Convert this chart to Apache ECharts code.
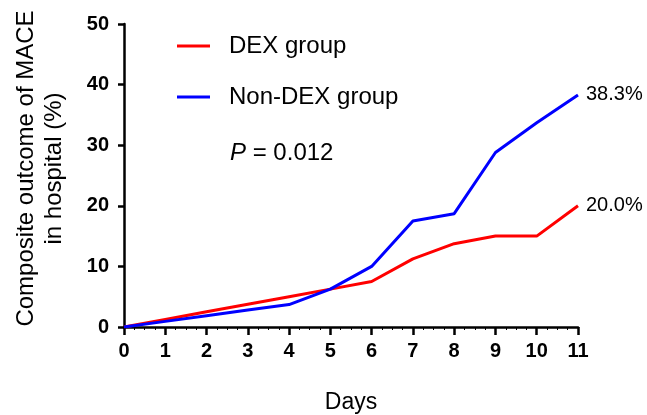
<!DOCTYPE html>
<html>
<head>
<meta charset="utf-8">
<script src="https://cdn.jsdelivr.net/npm/echarts@6/dist/echarts.min.js"></script>
<style>
html,body{margin:0;padding:0;background:#fff;}
#c{width:647px;height:415px;}
</style>
</head>
<body>
<div id="c"></div>
<script>
var days = [0,1,2,3,4,5,6,7,8,9,10,11];
var dexValues = [0,1.25,2.5,3.75,5.0,6.25,7.5,11.25,13.75,15.0,15.0,20.0];
var nonDexValues = [0,0.93,1.87,2.8,3.7,6.25,10.0,17.5,18.7,28.8,33.7,38.3];
var seriesNames = ['DEX group','Non-DEX group'];
var endLabels = ['20.0%','38.3%'];
var pText = '0.012';

var FONT = 'Liberation Sans, Arial, sans-serif';
function pairs(vals){ return days.map(function(d,i){ return [d, vals[i]]; }); }

var chart = echarts.init(document.getElementById('c'), null, {renderer:'canvas'});
chart.setOption({
  animation:false,
  backgroundColor:'#fff',
  textStyle:{fontFamily:FONT},
  grid:{left:124,right:69,top:24,bottom:88,containLabel:false,outerBoundsMode:'none'},
  legend:{
    orient:'vertical', left:172, top:29,
    itemWidth:33, itemHeight:3, itemGap:27,
    icon:'rect',
    textStyle:{fontSize:24, color:'#000', fontFamily:FONT, padding:[0,0,0,14]},
    data:seriesNames
  },
  xAxis:{
    type:'value', min:0, max:11, interval:1,
    name:'Days', nameLocation:'middle', nameGap:64,
    nameTextStyle:{fontSize:23,color:'#000',fontFamily:FONT},
    axisLine:{lineStyle:{color:'#000',width:2.5}},
    axisTick:{show:true,length:8,lineStyle:{color:'#000',width:2.5}},
    minorTick:{show:true,splitNumber:4,length:3,lineStyle:{color:'#000',width:1}},
    axisLabel:{fontSize:20,fontWeight:'bold',color:'#000',margin:14,fontFamily:FONT},
    splitLine:{show:false}, minorSplitLine:{show:false}
  },
  yAxis:{
    type:'value', min:0, max:50, interval:10,
    name:'Composite outcome of MACE\nin hospital (%)', nameLocation:'middle', nameGap:56,
    nameTextStyle:{fontSize:24,color:'#000',fontFamily:FONT,lineHeight:28,padding:[0,0,0,14]},
    axisLine:{show:true,lineStyle:{color:'#000',width:2.5}},
    axisTick:{show:true,length:6,lineStyle:{color:'#000',width:2.5}},
    axisLabel:{fontSize:20,fontWeight:'bold',color:'#000',margin:15,fontFamily:FONT},
    splitLine:{show:false}
  },
  series:[
    {name:seriesNames[0], type:'line', data:pairs(dexValues), symbol:'none',
     color:'#ff0000', lineStyle:{width:3,color:'#ff0000'},
     endLabel:{show:true, formatter:endLabels[0], fontSize:20, color:'#000', distance:8, fontFamily:FONT}},
    {name:seriesNames[1], type:'line', data:pairs(nonDexValues), symbol:'none',
     color:'#0000ff', lineStyle:{width:3,color:'#0000ff'},
     endLabel:{show:true, formatter:endLabels[1], fontSize:20, color:'#000', distance:8, fontFamily:FONT}}
  ],
  graphic:[
    {type:'text', left:230, top:141, style:{
      text:'{i|P} = '+pText,
      rich:{i:{fontStyle:'italic',fontSize:24,fontFamily:FONT,fill:'#000'}},
      fontSize:24, fontFamily:FONT, fill:'#000'}}
  ]
});
</script>
</body>
</html>
